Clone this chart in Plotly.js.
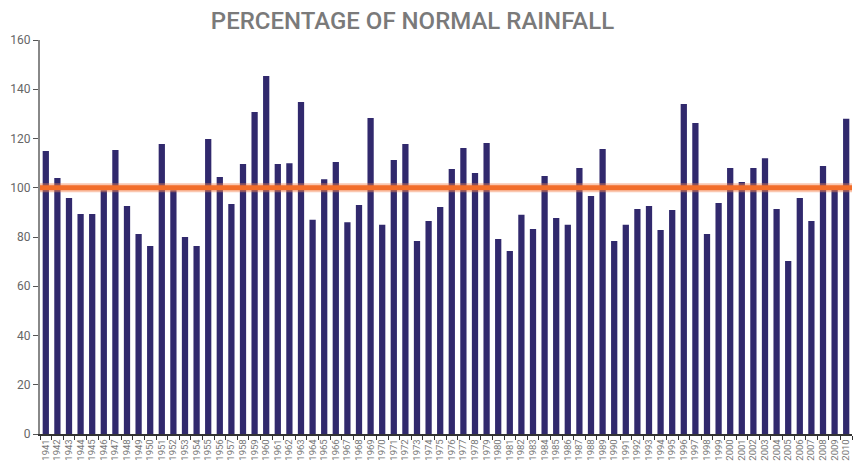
<!DOCTYPE html>
<html>
<head>
<meta charset="utf-8">
<script src="https://cdn.plot.ly/plotly-3.0.1.min.js"></script>
<style>html,body{margin:0;padding:0;background:#fff;}#chart{width:854px;height:464px;}</style>
</head>
<body>
<div id="chart"></div>
<script>
const years = ["1941","1942","1943","1944","1945","1946","1947","1948","1949","1950",
"1951","1952","1953","1954","1955","1956","1957","1958","1959","1960",
"1961","1962","1963","1964","1965","1966","1967","1968","1969","1970",
"1971","1972","1973","1974","1975","1976","1977","1978","1979","1980",
"1981","1982","1983","1984","1985","1986","1987","1988","1989","1990",
"1991","1992","1993","1994","1995","1996","1997","1998","1999","2000",
"2001","2002","2003","2004","2005","2006","2007","2008","2009","2010"];
const rainfallPct = [114.9,104,95.8,89.3,89.3,99,115.3,92.6,81.2,76.3,
117.8,99,80,76.3,119.8,104.4,93.4,109.6,130.8,145.4,
109.6,110,134.8,87,103.5,110.5,86,93,128.3,85,
111.3,117.8,78.4,86.5,92.2,107.6,116.1,106,118.2,79.2,
74.3,89,83.2,104.8,87.7,85,108,96.6,115.7,78.4,
85,91.4,92.6,82.8,91,134,126.3,81.2,93.8,108,
102.3,108,112,91.4,70.3,95.8,86.5,108.8,100,128];
const normalLevel = 100;
const yTicks = [0,20,40,60,80,100,120,140,160];

const traces = [{
  type: 'bar', x: years, y: rainfallPct,
  marker: {color: '#31296d'}, hoverinfo: 'x+y'
}];

const layout = {
  width: 854, height: 464,
  margin: {l: 40, r: 2, t: 40, b: 30},
  paper_bgcolor: '#fff', plot_bgcolor: '#fff',
  bargap: 0.46,
  showlegend: false,
  title: {text: 'PERCENTAGE OF NORMAL RAINFALL', x: 0.483, xanchor: 'center', y: 0.955, yanchor: 'middle',
    font: {family: 'Roboto, sans-serif', size: 24, color: '#7a7a7a', weight: 500}},
  xaxis: {type: 'category', tickmode: 'array', tickvals: years, ticktext: years,
    tickangle: -90, ticks: 'outside', tickson: 'boundaries', ticklen: 4, tickcolor: '#333',
    showline: true, linecolor: '#333', linewidth: 1.5, showgrid: false, automargin: false,
    tickfont: {family: 'Roboto, sans-serif', size: 9.5, color: '#777'}},
  yaxis: {range: [0, 160], tickvals: yTicks, ticks: 'outside', ticklen: 5, tickcolor: '#555',
    showline: true, linecolor: '#888', linewidth: 2, showgrid: false, zeroline: false, automargin: false,
    tickfont: {family: 'Roboto, sans-serif', size: 12, color: '#666'}},
  shapes: [
    {type: 'line', xref: 'paper', x0: 0, x1: 1, yref: 'y', y0: normalLevel, y1: normalLevel,
     line: {color: 'rgba(245,130,80,0.45)', width: 9}},
    {type: 'line', xref: 'paper', x0: 0, x1: 1, yref: 'y', y0: normalLevel, y1: normalLevel,
     line: {color: '#f26d2a', width: 5}}
  ]
};
Plotly.newPlot('chart', traces, layout, {displayModeBar: false, staticPlot: true});
</script>
</body>
</html>
